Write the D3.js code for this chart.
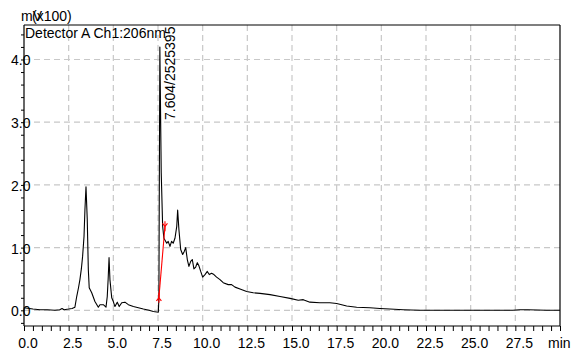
<!DOCTYPE html>
<html>
<head>
<meta charset="utf-8">
<script src="https://cdn.jsdelivr.net/npm/d3@7"></script>
<style>
  html, body { margin: 0; padding: 0; background: #fff; }
  svg { display: block; }
  text { font-family: Arial, "Liberation Sans", sans-serif; fill: #000; }
</style>
</head>
<body>
<svg id="chart" width="581" height="351"></svg>
<script>
// Chromatogram, Detector A Ch1 at 206 nm (signal in mV x100, time in min)
const times = [0, 0.5, 0.9, 1.3, 1.73, 2.0, 2.13, 2.24, 2.5, 2.69, 2.85, 2.95, 3.05, 3.13, 3.21, 3.28,
  3.36, 3.41, 3.47, 3.54, 3.60, 3.65, 3.79, 3.97, 4.16, 4.25, 4.44, 4.59, 4.66, 4.71, 4.76, 4.81,
  4.91, 5.0, 5.09, 5.22, 5.33, 5.47, 5.65, 5.84, 6.12, 6.4, 6.68, 7.0, 7.24, 7.52, 7.55, 7.604,
  7.68, 7.76, 7.83, 7.99, 8.07, 8.17, 8.26, 8.35, 8.45, 8.55, 8.6, 8.67, 8.77, 8.88, 8.97, 9.05,
  9.14, 9.23, 9.33, 9.42, 9.51, 9.61, 9.70, 9.79, 9.89, 10.0, 10.13, 10.26, 10.37, 10.5, 10.63,
  10.78, 10.97, 11.15, 11.43, 11.62, 11.81, 12.09, 12.46, 12.83, 13.21, 13.77, 14.33, 14.89, 15.35,
  15.63, 16.0, 16.56, 17.12, 17.5, 18.06, 18.62, 19.36, 19.92, 20.48, 21.23, 22.16, 23.28, 25.52,
  27.36, 27.75, 28.2, 29.25, 30];
const signal = [0.04, 0.02, 0.01, 0.01, 0.0, 0.01, 0.03, 0.01, 0.02, 0.03, 0.05, 0.22, 0.36, 0.49, 0.66, 0.86,
  1.18, 1.6, 1.97, 1.45, 0.65, 0.36, 0.28, 0.14, 0.05, 0.09, 0.09, 0.05, 0.22, 0.5, 0.84, 0.49,
  0.2, 0.14, 0.06, 0.13, 0.06, 0.12, 0.13, 0.09, 0.06, 0.04, 0.02, 0.0, -0.02, -0.03, 0.2, 4.2,
  2.2, 1.34, 1.15, 1.07, 1.1, 1.02, 1.1, 1.07, 1.15, 1.34, 1.6, 1.29, 0.97, 0.89, 0.94, 1.0,
  0.81, 0.7, 0.78, 0.81, 0.66, 0.69, 0.76, 0.71, 0.62, 0.53, 0.57, 0.62, 0.57, 0.59, 0.57,
  0.53, 0.49, 0.44, 0.41, 0.41, 0.37, 0.34, 0.30, 0.28, 0.27, 0.25, 0.22, 0.19, 0.16,
  0.17, 0.13, 0.12, 0.12, 0.11, 0.07, 0.05, 0.04, 0.03, 0.02, 0.01, 0.0, 0.0, 0.0,
  0.0, 0.01, 0.01, 0.0, 0.0];

// integrated peak: retention time / area, and its baseline (start, end)
const peakTime = 7.604;
const peakArea = 2525395;
const baselineTimes = [7.55, 7.89];
const baselineValues = [0.2, 1.34];

// axis ticks
const xMajorTicks = [0, 2.5, 5, 7.5, 10, 12.5, 15, 17.5, 20, 22.5, 25, 27.5];
const xGridTicks = [2.5, 5, 7.5, 10, 12.5, 15, 17.5, 20, 22.5, 25, 27.5];
const yMajorTicks = [0, 1, 2, 3, 4];

const svg = d3.select("#chart");
const x = d3.scaleLinear().domain([0, 30]).range([24, 560]);
const y = d3.scaleLinear().domain([-0.25, 4.55]).range([326, 25]);

// dashed grid
const grid = svg.append("g")
  .attr("stroke", "#c8c8c8").attr("stroke-width", 1.2).attr("stroke-dasharray", "6,4");
grid.selectAll("line.v").data(xGridTicks).join("line").attr("class", "v")
  .attr("x1", d => x(d)).attr("x2", d => x(d)).attr("y1", y.range()[1]).attr("y2", y.range()[0]);
grid.selectAll("line.h").data(yMajorTicks).join("line").attr("class", "h")
  .attr("x1", x.range()[0]).attr("x2", x.range()[1]).attr("y1", d => y(d)).attr("y2", d => y(d));

// signal trace
const line = d3.line().x((d, i) => x(times[i])).y(d => y(d));
svg.append("path").datum(signal)
  .attr("fill", "none").attr("stroke", "#000").attr("stroke-width", 1.1)
  .attr("stroke-linejoin", "round").attr("d", line);

// integration baseline with start/end markers
const bl = svg.append("g").attr("stroke", "#ff0000").attr("fill", "none").attr("stroke-width", 1.1);
bl.append("line")
  .attr("x1", x(baselineTimes[0])).attr("y1", y(baselineValues[0]))
  .attr("x2", x(baselineTimes[1])).attr("y2", y(baselineValues[1]));
baselineTimes.forEach((t, i) => {
  const px = x(t), py = y(baselineValues[i]);
  const dir = i === 0 ? -1 : 1; // start points up, end points down
  bl.append("line").attr("x1", px).attr("x2", px).attr("y1", py - 5).attr("y2", py + 5);
  bl.append("path").attr("d", `M${px - 2.5},${py - dir * 3}L${px},${py}L${px + 2.5},${py - dir * 3}`);
});

// frame
const frame = svg.append("g").attr("stroke", "#000").attr("stroke-width", 1.2);
frame.append("line").attr("x1", x(0)).attr("x2", x(30)).attr("y1", y.range()[1]).attr("y2", y.range()[1]);
frame.append("line").attr("x1", x(30)).attr("x2", x(30)).attr("y1", y.range()[1]).attr("y2", y.range()[0]);

// bottom axis: minor ticks every 0.5 min
const xAxis = d3.axisBottom(x).tickValues(d3.range(0, 30.01, 0.5)).tickSize(5).tickFormat("");
const gx = svg.append("g").attr("transform", `translate(0,${y.range()[0]})`).call(xAxis);
gx.select(".domain").attr("stroke-width", 1.2).attr("d", `M${x(0)},0H${x(30)}`);
gx.selectAll(".tick line").attr("stroke-width", 1);
svg.append("g").selectAll("text").data(xMajorTicks).join("text")
  .attr("x", d => x(d) + 4).attr("y", 348)
  .attr("text-anchor", "middle").attr("font-size", 14)
  .text(d => d.toFixed(1));
svg.append("text").attr("x", 548).attr("y", 348).attr("font-size", 14).text("min");

// left axis: ticks every 0.2
const yAxis = d3.axisLeft(y).tickValues(d3.range(-0.2, 4.41, 0.2)).tickSize(3).tickFormat("");
const gy = svg.append("g").attr("transform", `translate(${x(0)},0)`).call(yAxis);
gy.select(".domain").attr("stroke-width", 1.2).attr("d", `M0,${y.range()[1]}V${y.range()[0]}`);
gy.selectAll(".tick line").attr("stroke-width", 1);
svg.append("g").selectAll("text").data(yMajorTicks).join("text")
  .attr("x", 30.5).attr("y", d => y(d) + 6)
  .attr("text-anchor", "end").attr("font-size", 14)
  .text(d => d.toFixed(1));

// unit and channel labels
svg.append("text").attr("x", 21).attr("y", 21).attr("font-size", 14).text("mV");
svg.append("text").attr("x", 32).attr("y", 21).attr("font-size", 14).text("(x100)");
svg.append("text").attr("x", 25).attr("y", 37.5).attr("font-size", 14).text("Detector A Ch1:206nm");

// peak annotation
svg.append("text")
  .attr("transform", `translate(${x(peakTime) + 15},120) rotate(-90)`)
  .attr("font-size", 14)
  .text(`${peakTime.toFixed(3)}/${peakArea}`);
</script>
</body>
</html>
